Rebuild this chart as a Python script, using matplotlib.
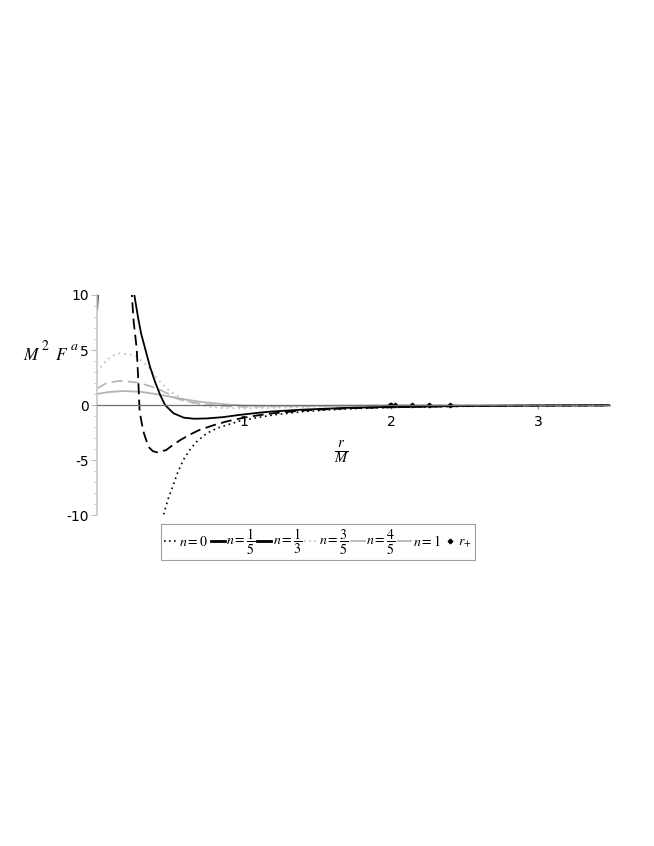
import matplotlib
matplotlib.use("Agg")
import matplotlib.pyplot as plt
from matplotlib.lines import Line2D

plt.rcParams['mathtext.fontset'] = 'stix'
plt.rcParams['axes.unicode_minus'] = False
plt.rcParams['font.family'] = ['DejaVu Sans']

# ---- data ----
r_n0 = [0.44, 0.451, 0.485, 0.519, 0.55, 0.587, 0.63, 0.678, 0.746, 0.814, 0.9, 0.973,
        1.09, 1.2, 1.4, 1.6, 1.8, 2.0, 2.4, 2.8, 3.2, 3.49]
f_n0 = [-10.9, -10.06, -8.5, -7.27, -6.1, -5.0, -4.1, -3.33, -2.58, -2.12, -1.75, -1.45,
        -1.15, -0.9, -0.6, -0.42, -0.3, -0.22, -0.13, -0.08, -0.05, -0.04]

r_n15 = [0.25, 0.254, 0.28, 0.30, 0.327, 0.36, 0.395, 0.43, 0.463, 0.52, 0.59, 0.66, 0.75,
         0.86, 0.97, 1.09, 1.18, 1.4, 1.7, 2.0, 2.5, 3.0, 3.49]
f_n15 = [10.5, 10.0, 7.9, 6.5, 5.15, 3.5, 2.1, 0.9, 0.0, -0.75, -1.15, -1.25, -1.22,
         -1.1, -0.9, -0.72, -0.6, -0.42, -0.26, -0.17, -0.09, -0.05, -0.03]
r_n15_branch = [0.0, 0.006]
f_n15_branch = [8.7, 10.3]

r_n13 = [0.233, 0.236, 0.25, 0.27, 0.28, 0.29, 0.315, 0.35, 0.38, 0.41, 0.47, 0.52, 0.565,
         0.63, 0.70, 0.79, 0.88, 1.0, 1.09, 1.2, 1.4, 1.7, 2.0, 2.5, 3.0, 3.49]
f_n13 = [10.8, 10.2, 7.5, 5.15, 2.5, -0.6, -2.4, -3.8, -4.2, -4.3, -4.1, -3.6, -3.2,
         -2.7, -2.25, -1.85, -1.5, -1.15, -0.95, -0.75, -0.5, -0.3, -0.2, -0.1, -0.06, -0.04]

r_n35 = [0.0, 0.066, 0.11, 0.156, 0.22, 0.27, 0.34, 0.43, 0.5, 0.58, 0.63, 0.68, 0.75, 0.85,
         1.0, 1.2, 1.5, 1.8, 2.1, 2.5, 3.0, 3.49]
f_n35 = [3.0, 4.1, 4.5, 4.7, 4.6, 4.4, 3.6, 2.1, 1.2, 0.6, 0.3, 0.05, -0.15, -0.28,
         -0.3, -0.25, -0.15, -0.1, -0.06, -0.04, -0.02, -0.01]

r_n45 = [0.0, 0.066, 0.156, 0.27, 0.34, 0.41, 0.48, 0.54, 0.62, 0.72, 0.85, 1.0, 1.2, 1.5,
         1.8, 2.1, 2.5, 3.0, 3.49]
f_n45 = [1.5, 2.0, 2.2, 2.05, 1.8, 1.5, 1.05, 0.6, 0.3, 0.08, -0.1, -0.15, -0.13, -0.09,
         -0.06, -0.04, -0.02, -0.01, -0.01]

r_n1 = [0.0, 0.08, 0.18, 0.3, 0.41, 0.5, 0.6, 0.7, 0.8, 0.9, 1.0, 1.2, 1.5, 1.8, 2.1, 2.5,
        3.0, 3.49]
f_n1 = [1.0, 1.18, 1.27, 1.2, 0.97, 0.75, 0.5, 0.3, 0.15, 0.03, -0.05, -0.08, -0.07, -0.05,
        -0.03, -0.02, -0.01, -0.01]

r_plus = [1.99, 2.00, 2.03, 2.14, 2.26, 2.40]
f_plus = [0, 0, 0, 0, 0, 0]

labels = [r'$n = 0$', r'$n = \dfrac{1}{5}$', r'$n = \dfrac{1}{3}$', r'$n = \dfrac{3}{5}$',
          r'$n = \dfrac{4}{5}$', r'$n = 1$', r'$r_{+}$']

# ---- figure ----
W, H = 654, 846
fig = plt.figure(figsize=(W / 100, H / 100), dpi=100)
x0, x1, ytop, ybot = 97, 610, 295, 515
ax = fig.add_axes([x0 / W, 1 - ybot / H, (x1 - x0) / W, (ybot - ytop) / H])
ax.set_xlim(0, 3.49)
ax.set_ylim(-10, 10)
ax.patch.set_alpha(0)

g1, g2, g3 = '#c4c4c4', '#b8b8b8', '#b4b4b4'
ax.plot(r_n35, f_n35, color=g1, lw=1.3, linestyle=(0, (1, 2.2)))
ax.plot(r_n45, f_n45, color=g2, lw=1.3, linestyle=(0, (6, 3)))
ax.plot(r_n1, f_n1, color=g3, lw=1.3)
ax.plot(r_n0, f_n0, color='black', lw=1.2, linestyle=(0, (1, 2.2)))
ax.plot(r_n13, f_n13, color='black', lw=1.3, linestyle=(0, (6, 3)))
ax.plot(r_n15, f_n15, color='black', lw=1.3)
ax.plot(r_n15_branch, f_n15_branch, color='black', lw=1.5, clip_on=True)
ax.plot(r_plus, f_plus, linestyle='none', marker='D', markersize=2.3, color='black')

for s in ['top', 'right']:
    ax.spines[s].set_visible(False)
ax.spines['bottom'].set_position(('data', 0))
ax.spines['bottom'].set_color('#707070')
ax.spines['bottom'].set_linewidth(0.9)
ax.spines['left'].set_color('#c8c8c8')
ax.spines['left'].set_linewidth(1.2)

ax.set_yticks([-10, -5, 0, 5, 10])
ax.set_yticklabels(['-10', '-5', '0', '5', '10'])
ax.set_yticks(range(-10, 11), minor=True)
ax.set_xticks([1, 2, 3])
ax.set_xticklabels(['1', '2', '3'])
ax.set_xticks([i * 0.2 for i in range(1, 18)], minor=True)
ax.tick_params(axis='y', which='major', length=4, color='#c0c0c0', labelsize=10, pad=2)
ax.tick_params(axis='y', which='minor', length=2, color='#c0c0c0')
ax.tick_params(axis='x', which='major', length=3, color='#909090', labelsize=10, pad=4)
ax.tick_params(axis='x', which='minor', length=0)

# y label  M^2 F^a (spread out as in the reference)
ylab_y = 1 - 355 / H
fig.text(23 / W, ylab_y, r'$M$', fontsize=12.5, va='center', ha='left')
fig.text(41 / W, ylab_y + 9 / H, r'$2$', fontsize=10, va='center', ha='left')
fig.text(55 / W, ylab_y, r'$F$', fontsize=12.5, va='center', ha='left')
fig.text(70 / W, ylab_y + 9 / H, r'$a$', fontsize=10, va='center', ha='left')

fig.text(342 / W, 1 - 452 / H, r'$\frac{r}{M}$', fontsize=15, va='center', ha='center')

handles = [
    Line2D([], [], color='black', lw=1.2, linestyle=(0, (1, 2))),
    Line2D([], [], color='black', lw=2),
    Line2D([], [], color='black', lw=2),
    Line2D([], [], color=g1, lw=1.2, linestyle=(0, (1, 2))),
    Line2D([], [], color=g2, lw=1.3),
    Line2D([], [], color=g3, lw=1.3),
    Line2D([], [], linestyle='none', marker='D', markersize=2.3, color='black'),
]
leg = fig.legend(handles, labels, ncol=7, loc='center',
                 bbox_to_anchor=(318 / W, 1 - 542 / H),
                 handlelength=1.0, handletextpad=0.1, columnspacing=0.15,
                 borderpad=0.2, borderaxespad=0, fancybox=False, frameon=True,
                 prop={'size': 10})
leg.get_frame().set_edgecolor('#888888')
leg.get_frame().set_linewidth(0.8)

fig.savefig('out.png', dpi=100)
